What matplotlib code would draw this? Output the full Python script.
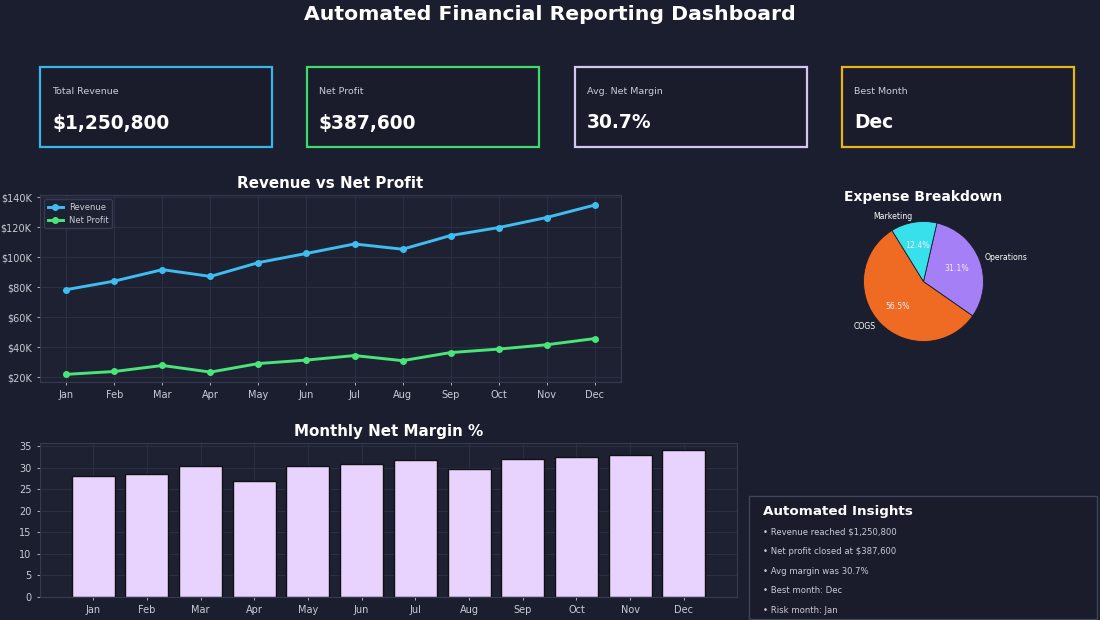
import matplotlib
matplotlib.use("Agg")
import matplotlib.pyplot as plt
from matplotlib.patches import Rectangle
from matplotlib.ticker import FuncFormatter
import numpy as np

months = ["Jan", "Feb", "Mar", "Apr", "May", "Jun", "Jul", "Aug", "Sep", "Oct", "Nov", "Dec"]
revenue = [78500, 84200, 91800, 87300, 96500, 102600, 108900, 105400, 114500, 119800, 126500, 134800]
net_profit = [22100, 24000, 28000, 23600, 29300, 31600, 34600, 31200, 36600, 38900, 41800, 45900]
expense_labels = ["COGS", "Operations", "Marketing"]
expense_share = [56.5, 31.1, 12.4]

margins = [p / r * 100 for p, r in zip(net_profit, revenue)]
total_rev = sum(revenue)
total_profit = sum(net_profit)
avg_margin = float(np.mean(margins))
best_month = months[int(np.argmax(margins))]
risk_month = months[int(np.argmin(net_profit))]

BG = "#1b1e2e"
AX_BG = "#1e2132"
GRID = "#2c3045"
SPINE = "#363b52"
TXT = "#c9ccd6"
W, H = 1100, 620

fig = plt.figure(figsize=(11, 6.2), dpi=100, facecolor=BG)

def fx(px):
    return px / W

def fy(py):
    return 1 - py / H

fig.text(0.5, fy(15), "Automated Financial Reporting Dashboard", ha="center", va="center",
         color="white", fontsize=14.7, fontweight="bold")

# KPI cards
kpis = [
    ("Total Revenue", f"${total_rev:,.0f}", "#38b6e8", 40),
    ("Net Profit", f"${total_profit:,.0f}", "#3ddc6a", 307),
    ("Avg. Net Margin", f"{avg_margin:.1f}%", "#d4c8f0", 575),
    ("Best Month", best_month, "#e8b417", 842),
]
for label, value, col, x0 in kpis:
    rect = Rectangle((fx(x0), fy(147)), fx(232), (147 - 67) / H, transform=fig.transFigure,
                     facecolor="#1a1c2c", edgecolor=col, linewidth=1.6)
    fig.patches.append(rect)
    fig.text(fx(x0 + 12), fy(91), label, color=TXT, fontsize=6.8, va="center", ha="left")
    fig.text(fx(x0 + 12), fy(123), value, color="white", fontsize=13.4, fontweight="bold",
             va="center", ha="left")

def style_ax(ax):
    ax.set_facecolor(AX_BG)
    for s in ax.spines.values():
        s.set_color(SPINE)
        s.set_linewidth(0.8)
    ax.tick_params(colors=TXT, labelsize=7, length=2.5, width=0.6)
    ax.grid(True, color=GRID, linewidth=0.7)
    ax.set_axisbelow(True)

# Line chart
ax1 = fig.add_axes([fx(40), fy(382), fx(621 - 40), (382 - 195) / H])
style_ax(ax1)
x = np.arange(len(months))
ax1.plot(x, revenue, color="#3fbdf0", linewidth=2.1, marker="o", markersize=4, label="Revenue")
ax1.plot(x, net_profit, color="#4ae57a", linewidth=2.1, marker="o", markersize=4, label="Net Profit")
ax1.set_xticks(x)
ax1.set_xticklabels(months)
ax1.set_yticks(np.arange(20000, 140001, 20000))
ax1.set_ylim(17000, 141500)
ax1.yaxis.set_major_formatter(FuncFormatter(lambda v, p: f"${v/1000:.0f}K"))
leg = ax1.legend(loc="upper left", fontsize=6, facecolor=AX_BG, edgecolor=SPINE,
                 labelcolor=TXT, framealpha=1, borderpad=0.4, handlelength=1.8)
ax1.set_title("Revenue vs Net Profit", color="white", fontsize=10.9, fontweight="bold", pad=5)

# Pie chart
r = 60 * 1.25
ax2 = fig.add_axes([fx(923.5 - r), fy(281.5 + r), fx(2 * r), 2 * r / H])
ax2.set_facecolor(BG)
wedges, texts, autotexts = ax2.pie(
    expense_share, labels=expense_labels, colors=["#ef6a22", "#a57ff5", "#38e0ec"],
    autopct="%1.1f%%", startangle=121.7, labeldistance=1.1, pctdistance=0.6,
    wedgeprops=dict(edgecolor="#1a1c2c", linewidth=0.6),
    textprops=dict(color="white", fontsize=5.6))
for t in autotexts:
    t.set_color("#f3ecff")
    t.set_fontsize(5.6)
ax2.set_xlim(-1.25, 1.25)
ax2.set_ylim(-1.25, 1.25)
ax2.set_aspect("equal")
fig.text(fx(923), fy(197), "Expense Breakdown", ha="center", va="center", color="white",
         fontsize=10, fontweight="bold")

# Bar chart
ax3 = fig.add_axes([fx(40), fy(597), fx(737 - 40), (597 - 443) / H])
style_ax(ax3)
ax3.bar(x, margins, color="#e8d2fe", edgecolor="#111111", linewidth=1.0, width=0.8)
ax3.set_xticks(x)
ax3.set_xticklabels(months)
ax3.set_yticks(np.arange(0, 36, 5))
ax3.set_title("Monthly Net Margin %", color="white", fontsize=10.9, fontweight="bold", pad=5)

# Insights box
rect = Rectangle((fx(749), fy(619)), fx(1097 - 749), (619 - 496) / H, transform=fig.transFigure,
                 facecolor="#1a1c2c", edgecolor="#3e4459", linewidth=1.0)
fig.patches.append(rect)
fig.text(fx(763), fy(512), "Automated Insights", color="white", fontsize=9.7,
         fontweight="bold", va="center", ha="left")
insights = [
    f"• Revenue reached ${total_rev:,.0f}",
    f"• Net profit closed at ${total_profit:,.0f}",
    f"• Avg margin was {avg_margin:.1f}%",
    f"• Best month: {best_month}",
    f"• Risk month: {risk_month}",
]
for i, line in enumerate(insights):
    fig.text(fx(763), fy(532 + i * 19.6), line, color=TXT, fontsize=6.1, va="center", ha="left")

fig.savefig("out.png", dpi=100, facecolor=BG)
